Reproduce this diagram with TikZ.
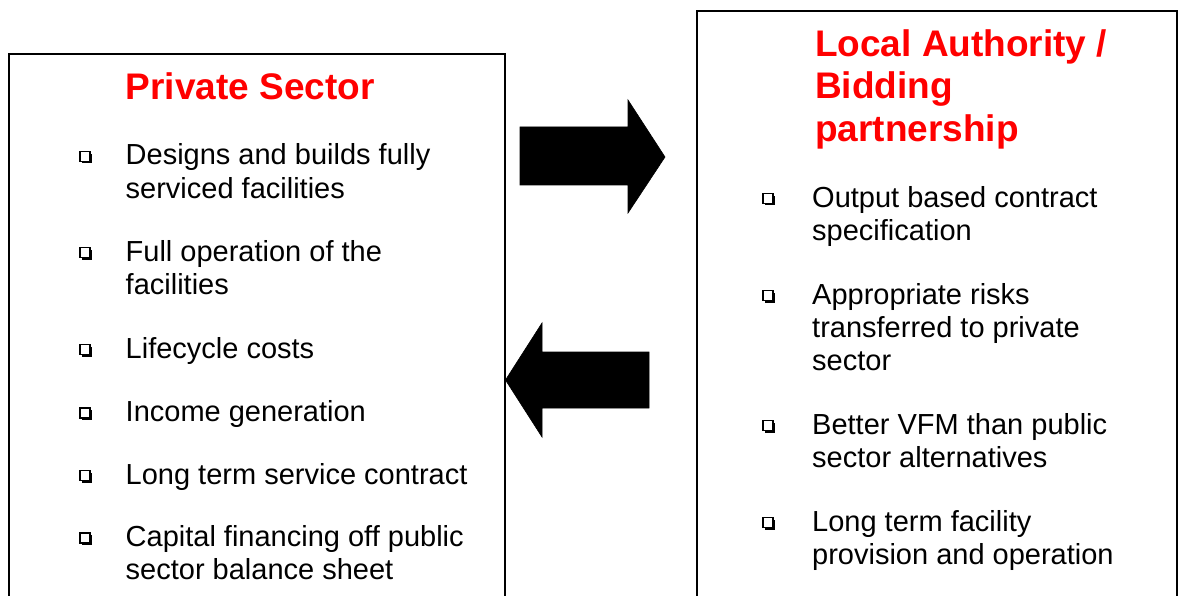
\documentclass[tikz,border=0pt]{standalone}
\usepackage{fontspec}
\setmainfont{Liberation Sans}
\begin{document}
\begin{tikzpicture}[x=1pt,y=-1pt,
  frame/.style={draw=black,line width=1.6pt},
  blockarrow/.style={fill=black,draw=black,line width=0.6pt,line join=miter},
  heading/.style={anchor=base west,inner sep=0pt,align=left,text=red,
    font=\fontsize{37}{42.3}\selectfont\bfseries},
  item/.style={anchor=base west,inner sep=0pt,align=left,
    font=\fontsize{29}{33.4}\selectfont},
  bulletbox/.pic={
    \fill[black] (-2.8,-2.8) rectangle (7,7);
    \filldraw[fill=white,draw=black,line width=1.3pt] (-5,-5) rectangle (5,5);
  }]
\useasboundingbox (0,0) rectangle (1178,596);

% the two panels, open at the bottom
\draw[frame] (9,600) -- (9,54) -- (505,54) -- (505,600);
\draw[frame] (697,600) -- (697,11) -- (1177,11) -- (1177,600);

% panel headings (placed by the baseline of their last line)
\node[heading] (ps) at (125.5,100) {Private Sector};
\node[heading] (la) at (815,141.3) {Local Authority /\\Bidding\\partnership};

% left panel items
\node[item] (p1) at (125.5,198.4) {Designs and builds fully\\serviced facilities};
\node[item] (p2) at (125.5,294.4) {Full operation of the\\facilities};
\node[item] (p3) at (125.5,358) {Lifecycle costs};
\node[item] (p4) at (125.5,421.5) {Income generation};
\node[item] (p5) at (125.5,484) {Long term service contract};
\node[item] (p6) at (125.5,579.9) {Capital financing off public\\sector balance sheet};
\foreach \yy in {165,261,358,421.5,484,546.5}
  \pic at (85,\yy-8.5) {bulletbox};

% right panel items
\node[item] (l1) at (812,240.4) {Output based contract\\specification};
\node[item] (l2) at (812,370.8) {Appropriate risks\\transferred to private\\sector};
\node[item] (l3) at (812,467.4) {Better VFM than public\\sector alternatives};
\node[item] (l4) at (812,564.4) {Long term facility\\provision and operation};
\foreach \yy in {207,304,434,531}
  \pic at (768,\yy-8.5) {bulletbox};

% block arrows between the panels
\fill[blockarrow] (520,127) -- (628,127) -- (628,100) -- (665,157)
  -- (628,213) -- (628,185) -- (520,185) -- cycle;
\fill[blockarrow] (649,352) -- (542,352) -- (542,323) -- (505.5,380)
  -- (542,437) -- (542,408) -- (649,408) -- cycle;
\end{tikzpicture}
\end{document}
